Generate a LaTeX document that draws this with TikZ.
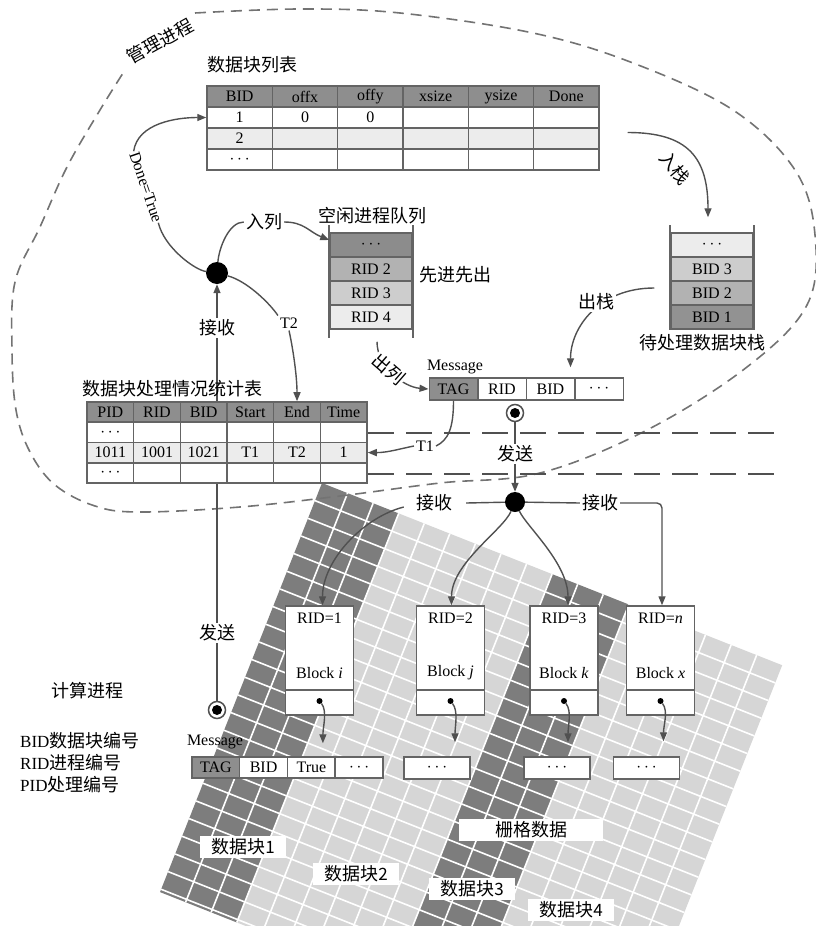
\documentclass[tikz,border=0pt]{standalone}
\usepackage{fontspec}
\setmainfont{Liberation Serif}
\newfontfamily\cjk{Noto Sans CJK SC}
\usetikzlibrary{arrows.meta}
\definecolor{tb}{RGB}{100,100,100}
\definecolor{hdr}{RGB}{142,142,142}
\definecolor{rowl}{RGB}{236,236,236}
\definecolor{ln}{RGB}{80,80,80}
\definecolor{gdark}{RGB}{125,125,125}
\definecolor{glight}{RGB}{214,214,214}
\definecolor{dsh}{RGB}{115,115,115}
\definecolor{qa}{RGB}{140,140,140}
\definecolor{qb}{RGB}{178,178,178}
\definecolor{qc}{RGB}{205,205,205}
\definecolor{qd}{RGB}{236,236,236}
\newcommand\zhf{\cjk\fontsize{18}{21}\selectfont}
\newcommand\ltf{\fontsize{16}{18}\selectfont}
\newcommand\ltb{\fontsize{17}{20}\selectfont}
\newcommand\dts{{\fontsize{18}{18}\selectfont$\cdots$}}
\begin{document}
\begin{tikzpicture}[x=1pt,y=-1pt,
  cell/.style={draw=tb, line width=1.5pt, inner sep=0pt, font=\ltf},
  con/.style={draw=ln, line width=1.4pt},
  arr/.style={con, -{Triangle[length=9pt,width=7pt]}},
  zh/.style={font=\zhf, inner sep=2pt},
  lab/.style={font=\ltf, inner sep=2pt},
  wzh/.style={zh, fill=white},
  bdot/.style={circle, fill=black, inner sep=0pt, minimum size=#1},
  bull/.style={circle, draw=ln, line width=1.5pt, fill=white, minimum size=17pt, inner sep=0pt},
  blk/.style={fill=white, font=\zhf, inner xsep=11pt, inner ysep=3pt},
  qbar/.style={draw=tb, line width=1.8pt},
  gline/.style={white, line width=1.6pt},
  hdash/.style={draw=ln, line width=2.2pt, dash pattern=on 26pt off 12pt}
]
\useasboundingbox (0,0) rectangle (816,926);

% ---------- raster grid ----------
\begin{scope}
\clip (0,0) rectangle (816,926);
\begin{scope}[shift={(322,483)}, rotate=-21.6]
\fill[gdark]  (0,0) -- (82.5,0) -- (82.5,440) -- (0,440) -- cycle;
\fill[glight] (82.5,0) -- (247.5,0) -- (247.5,440) -- (82.5,440) -- cycle;
\fill[gdark]  (247.5,0) -- (330,0) -- (330,440) -- (247.5,440) -- cycle;
\fill[glight] (330,0) -- (495,0) -- (495,440) -- (330,440) -- cycle;
\foreach \u in {1,...,17} \draw[gline] ({\u*27.5},0) -- ({\u*27.5},440);
\foreach \v in {1,...,23} \draw[gline] (0,{\v*19}) -- (495,{\v*19});
\end{scope}
\end{scope}

% ---------- management process boundary ----------
\draw[draw=dsh, line width=1.6pt, dash pattern=on 11pt off 7pt] plot[smooth, tension=0.6] coordinates {(195,13) (300,9) (400,13) (533,33) (633,63) (733,110) (795,170) (815,235) (807,305) (747,367) (647,430) (540,473) (440,483) (340,496) (240,507) (140,512) (95,506) (55,485) (30,452) (16,410) (12,350) (15,282) (40,227) (67,167) (100,110) (125,70)};
\node[zh, rotate=29] (mgmt) at (160,41) {管理进程};

\draw[hdash] (368,433) -- (780,433);
\draw[hdash] (368,474) -- (780,474);

% ---------- junctions and vertical lines ----------
\node[bdot=22pt] (join1) at (217,273) {};
\node[bull] (bull2) at (217,710) {};
\node[bdot=10pt] (bull2c) at (217,710) {};
\draw[arr] (bull2) -- (join1);

\node[bull] (bull1) at (515,413) {};
\node[bdot=10pt] (bull1c) at (515,413) {};
\node[bdot=20pt] (join2) at (515,502) {};
\draw[arr] (bull1) -- (join2);

% ---------- table 1 ----------
\node[zh] (tt1) at (252,65) {数据块列表};
\foreach \t [count=\i from 0] in {BID,offx,offy,xsize,ysize,Done}
  \node[cell, fill=hdr, minimum width=65.33pt, minimum height=21pt] (L0\i) at ({239.67+65.33*\i},96.5) {\t};
\foreach \t [count=\i from 0] in {1,0,0,{},{},{}}
  \node[cell, fill=white, minimum width=65.33pt, minimum height=21pt] (L1\i) at ({239.67+65.33*\i},117.5) {\t};
\foreach \t [count=\i from 0] in {2,{},{},{},{},{}}
  \node[cell, fill=rowl, minimum width=65.33pt, minimum height=21pt] (L2\i) at ({239.67+65.33*\i},138.5) {\t};
\foreach \t [count=\i from 0] in {\dts,{},{},{},{},{}}
  \node[cell, fill=white, minimum width=65.33pt, minimum height=21pt] (L3\i) at ({239.67+65.33*\i},159.5) {\t};

% ---------- table 2 ----------
\node[zh] (tt2) at (172,389) {数据块处理情况统计表};
\foreach \t [count=\i from 0] in {PID,RID,BID,Start,End,Time}
  \node[cell, fill=hdr, minimum width=46.67pt, minimum height=20.25pt] (P0\i) at ({110.33+46.67*\i},412.1) {\t};
\foreach \t [count=\i from 0] in {\dts,{},{},{},{},{}}
  \node[cell, fill=white, minimum width=46.67pt, minimum height=20.25pt] (P1\i) at ({110.33+46.67*\i},432.4) {\t};
\foreach \t [count=\i from 0] in {1011,1001,1021,T1,T2,1}
  \node[cell, fill=rowl, minimum width=46.67pt, minimum height=20.25pt] (P2\i) at ({110.33+46.67*\i},452.6) {\t};
\foreach \t [count=\i from 0] in {\dts,{},{},{},{},{}}
  \node[cell, fill=white, minimum width=46.67pt, minimum height=20.25pt] (P3\i) at ({110.33+46.67*\i},472.9) {\t};

% ---------- idle queue ----------
\node[zh] (tt3) at (372,216) {空闲进程队列};
\node[cell, fill=qa, minimum width=82pt, minimum height=24pt] (Q1) at (371,245) {\dts};
\node[cell, fill=qb, minimum width=82pt, minimum height=24pt] (Q2) at (371,269) {RID 2};
\node[cell, fill=qc, minimum width=82pt, minimum height=24pt] (Q3) at (371,293) {RID 3};
\node[cell, fill=qd, minimum width=82pt, minimum height=24pt] (Q4) at (371,317) {RID 4};
\draw[qbar] ([yshift=7]Q1.north west) -- ([yshift=-8]Q4.south west);
\draw[qbar] ([yshift=7]Q1.north east) -- ([yshift=-8]Q4.south east);
\node[zh] (fifo) at (455,275) {先进先出};

% ---------- pending stack ----------
\node[cell, fill=qd, minimum width=82pt, minimum height=24pt] (S1) at (712,245) {\dts};
\node[cell, fill=qc, minimum width=82pt, minimum height=24pt] (S2) at (712,269) {BID 3};
\node[cell, fill=qb, minimum width=82pt, minimum height=24pt] (S3) at (712,293) {BID 2};
\node[cell, fill=qa!95!white, minimum width=82pt, minimum height=24pt] (S4) at (712,317) {BID 1};
\draw[qbar] ([yshift=7]S1.north west) -- (S4.south west);
\draw[qbar] ([yshift=7]S1.north east) -- (S4.south east);
\node[zh] (tt4) at (702,343) {待处理数据块栈};

% ---------- message (top) ----------
\node[lab] (msg1) at (455,367) {Message};
\node[cell, fill=hdr, minimum width=48.5pt, minimum height=22pt] (M0) at (453.5,389) {TAG};
\node[cell, fill=white, minimum width=48.5pt, minimum height=22pt] (M1) at (502,389) {RID};
\node[cell, fill=white, minimum width=48.5pt, minimum height=22pt] (M2) at (550.5,389) {BID};
\node[cell, fill=white, minimum width=48.5pt, minimum height=22pt] (M3) at (599,389) {\dts};

% ---------- compute process boxes ----------
\foreach \c/\n in {319.5/1, 450.5/2, 564/3, 660.5/4} {
  \node[cell, fill=white, minimum width=68pt, minimum height=84pt] (B\n) at (\c,648) {};
  \node[cell, fill=white, minimum width=68pt, minimum height=25pt] (C\n) at (\c,702.5) {};
  \node[bdot=6pt] (dd\n) at (\c,701) {};
}
\node[lab] (r1) at (319.5,618) {RID=1};
\node[lab] (r2) at (450.5,618) {RID=2};
\node[lab] (r3) at (564,618) {RID=3};
\node[lab] (r4) at (660.5,618) {RID=\textit{n}};
\node[lab] (k1) at (319.5,673) {Block \textit{i}};
\node[lab] (k2) at (450.5,673) {Block \textit{j}};
\node[lab] (k3) at (564,673) {Block \textit{k}};
\node[lab] (k4) at (660.5,673) {Block \textit{x}};

% ---------- message (bottom) ----------
\node[lab] (msg2) at (215,742) {Message};
\node[cell, fill=hdr, minimum width=47.75pt, minimum height=21pt] (N0) at (215.9,767.5) {TAG};
\node[cell, fill=white, minimum width=47.75pt, minimum height=21pt] (N1) at (263.6,767.5) {BID};
\node[cell, fill=white, minimum width=47.75pt, minimum height=21pt] (N2) at (311.4,767.5) {True};
\node[cell, fill=white, minimum width=47.75pt, minimum height=21pt] (N3) at (359.1,767.5) {\dts};
\node[cell, fill=white, minimum width=66pt, minimum height=22pt] (D1) at (437,768) {\dts};
\node[cell, fill=white, minimum width=66pt, minimum height=22pt] (D2) at (557,768) {\dts};
\node[cell, fill=white, minimum width=66pt, minimum height=22pt] (D3) at (646.5,768) {\dts};

\draw[arr] (dd1) .. controls +(8,10) and +(0,-16) .. ([shift={(11.5,-13)}]N2.north);
\draw[arr] (dd2) .. controls +(8,10) and +(0,-16) .. ([shift={(18,-14)}]D1.north);
\draw[arr] (dd3) .. controls +(8,10) and +(0,-16) .. ([shift={(11,-14)}]D2.north);
\draw[arr] (dd4) .. controls +(8,10) and +(0,-16) .. ([shift={(17,-15)}]D3.north);

% ---------- labels on vertical lines ----------
\node[wzh] (rcv1) at (217,328) {接收};
\node[wzh] (snd2) at (217,633) {发送};
\node[wzh] (snd1) at (515,454) {发送};

% ---------- fork ----------
\node[zh] (rcvL) at (434,503) {接收};
\node[zh] (rcvR) at (600,503) {接收};
\draw[con] (join2) -- ([xshift=12]rcvL.east);
\draw[con] (join2) -- (rcvR.west);
\draw[arr, rounded corners=5pt] (rcvR.east) -| ([xshift=1.5]B4.north);
\draw[arr] ([shift={(-10,4)}]rcvL.west) .. controls +(-40,10) and +(0,-45) .. ([xshift=3]B1.north);
\draw[arr] (join2) .. controls +(-12,28) and +(0,-42) .. ([xshift=1]B2.north);
\draw[arr] (join2) .. controls +(12,25) and +(0,-42) .. ([xshift=4]B3.north);

% ---------- management connectors ----------
\node[lab, rotate=-71, inner sep=1pt] (dt) at (146,187) {Done=True};
\draw[con] (dt.east) .. controls +(6,25) and +(-22,-3) .. (join1);
\draw[arr] (dt.west) .. controls +(4,-28) and +(-30,0) .. (L10.west);

\node[zh] (inq) at (264,222) {入列};
\draw[con] (join1) .. controls +(2,-25) and +(-15,0) .. (inq.west);
\draw[arr] (inq.east) .. controls +(20,0) and +(-20,-8) .. ([yshift=5]Q1.west);

\node[lab] (t2) at (289,323) {T2};
\draw[con] (join1) .. controls +(30,8) and +(-8,-12) .. (t2.north west);
\draw[arr] (t2.south) .. controls +(4,18) and +(0,-25) .. (P04.north);

\draw[arr] ([shift={(6,12)}]Q4.south) .. controls +(0,25) and +(-25,-2) .. (M0.west);
\node[wzh, rotate=-41, inner sep=1pt] (outq) at (389,369) {出列};

\node[lab] (t1) at (425,446) {T1};
\draw[con] (M0.south) .. controls +(0,28) and +(12,-6) .. (t1.east);
\draw[arr] (t1.west) .. controls +(-15,3) and +(20,0) .. (P25.east);

\draw[arr] ([shift={(-16,-5)}]S3.west) .. controls +(-55,0) and +(0,-40) .. ([shift={(20,-10)}]M2.north);
\node[wzh] (outs) at (596,302) {出栈};

\draw[arr] ([shift={(28,-6)}]L25.east) .. controls +(60,0) and +(0,-60) .. ([shift={(-4,-15)}]S1.north);
\node[zh, rotate=-50] (ins) at (675,168) {入栈};

% ---------- legend ----------
\node[zh] (comp) at (87,691) {计算进程};
\node[anchor=west, inner sep=0pt] (lg1) at (20,741) {{\ltb BID}{\zhf 数据块编号}};
\node[anchor=west, inner sep=0pt] (lg2) at (20,763) {{\ltb RID}{\zhf 进程编号}};
\node[anchor=west, inner sep=0pt] (lg3) at (20,785) {{\ltb PID}{\zhf 处理编号}};

% ---------- block labels ----------
\node[blk] (db1) at (243,847) {数据块{\ltb 1}};
\node[blk] (db2) at (356,874) {数据块{\ltb 2}};
\node[blk] (db3) at (472,889) {数据块{\ltb 3}};
\node[blk] (db4) at (571,910) {数据块{\ltb 4}};
\node[blk, minimum width=144pt] (grd) at (531,830) {栅格数据};
\end{tikzpicture}
\end{document}
